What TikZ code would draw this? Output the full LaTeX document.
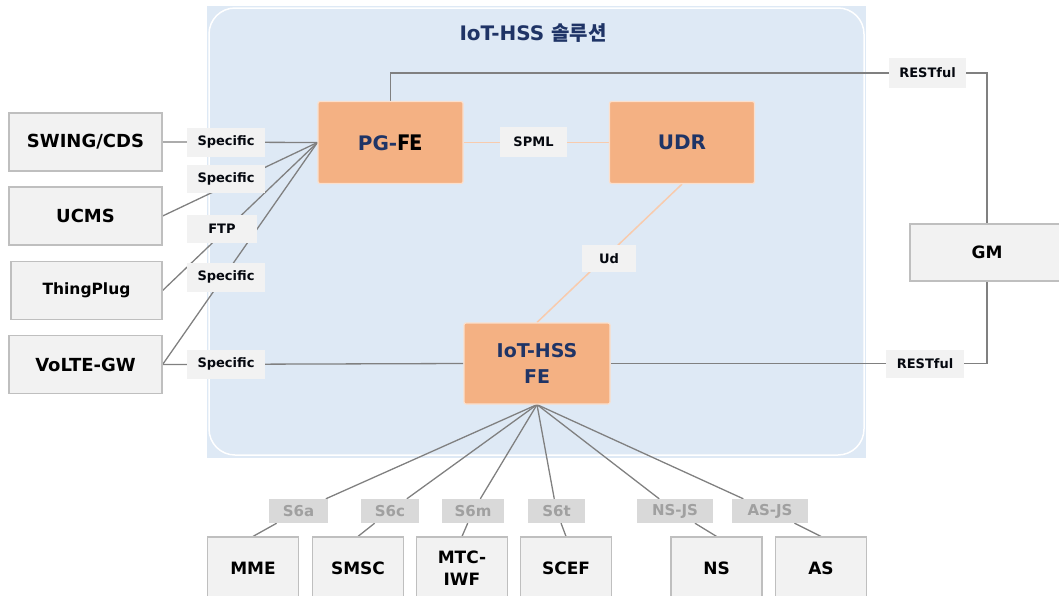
\documentclass[tikz,border=0pt]{standalone}
\usepackage{fontspec}
\setmainfont{DejaVu Sans}
\newfontfamily\krfont{Noto Sans CJK KR}
\usepackage{tikz}
\usetikzlibrary{positioning}

\definecolor{navy}{HTML}{1F3466}
\definecolor{solbg}{HTML}{DEE9F5}
\definecolor{feorange}{HTML}{F4B183}
\definecolor{feline}{HTML}{F8CBAD}
\definecolor{boxfill}{HTML}{F2F2F2}
\definecolor{boxline}{HTML}{BFBFBF}
\definecolor{refgray}{HTML}{D9D9D9}
\definecolor{reftext}{HTML}{A0A0A0}
\definecolor{wire}{HTML}{808080}

\pgfdeclarelayer{bg}
\pgfdeclarelayer{wires}
\pgfsetlayers{bg,wires,main}

\begin{document}
\begin{tikzpicture}[x=1pt,y=-1pt,
  sysbox/.style={draw=boxline, line width=1.2pt, fill=boxfill, minimum width=153pt,
    minimum height=58pt, inner sep=0pt, font=\bfseries\fontsize{18}{22}\selectfont},
  netbox/.style={sysbox, minimum width=91pt, minimum height=62pt, align=center,
    font=\bfseries\fontsize{17}{22}\selectfont},
  febox/.style={draw=white!60!feorange, line width=1.2pt, fill=feorange, rounded corners=2pt,
    minimum width=145pt, minimum height=82pt, inner sep=0pt, text=navy, align=center},
  iflabel/.style={fill=boxfill, minimum height=29pt, inner sep=0pt, text=black!85!navy,
    font=\bfseries\fontsize{13}{15}\selectfont},
  reflabel/.style={fill=refgray, minimum height=24pt, inner sep=0pt, text=reftext,
    font=\bfseries\fontsize{15}{17}\selectfont},
  wireline/.style={draw=wire, line width=1.3pt},
  feedge/.style={draw=feline, line width=1.5pt}]

  \clip (0,0) rectangle (1059,595);

  % solution area
  \begin{pgfonlayer}{bg}
    \fill[solbg] (207,6) rectangle (866,458);
    \draw[white, line width=1.5pt, rounded corners=26pt] (209,8) rectangle (864,455);
  \end{pgfonlayer}
  \node[text=navy, font=\bfseries\fontsize{20}{24}\selectfont] (title) at (533,33)
    {IoT-HSS {\krfont\bfseries 솔루션}};

  % function elements
  \node[febox, font=\bfseries\fontsize{20}{24}\selectfont] (pgfe) at (390.5,142.5)
    {PG-{\krfont\bfseries\fontsize{21}{24}\selectfont\color{black}FE}};
  \node[febox, font=\bfseries\fontsize{20}{24}\selectfont] (udr) at (682,142.5) {UDR};
  \node[febox, minimum width=146pt, minimum height=81pt,
    font=\bfseries\fontsize{19}{26}\selectfont] (iothss) at (537,363.5) {IoT-HSS\\FE};

  % left side systems
  \node[sysbox] (swing) at (85.5,142) {SWING/CDS};
  \node[sysbox] (ucms) at (85.5,216) {UCMS};
  \node[sysbox, minimum width=151pt, font=\bfseries\fontsize{15.5}{18}\selectfont] (thing) at (86.5,290.5) {ThingPlug};
  \node[sysbox] (volte) at (85.5,364.5) {VoLTE-GW};

  % GM
  \node[sysbox, minimum width=154pt, minimum height=57pt,
    font=\bfseries\fontsize{17}{22}\selectfont] (gm) at (987,252.5) {GM};

  % network elements
  \node[netbox] (mme) at (253,568) {MME};
  \node[netbox] (smsc) at (358,568) {SMSC};
  \node[netbox] (mtc) at (462,568) {MTC-\\IWF};
  \node[netbox] (scef) at (566,568) {SCEF};
  \node[netbox] (ns) at (716.5,568) {NS};
  \node[netbox] (as) at (821,568) {AS};

  % interface labels
  \node[iflabel, minimum width=78pt] (sp1) at (226,142) {Specific};
  \node[iflabel, minimum width=78pt, minimum height=28pt] (sp2) at (226,179) {Specific};
  \node[iflabel, minimum width=70pt, minimum height=28pt] (ftp) at (222,229) {FTP};
  \node[iflabel, minimum width=78pt] (sp3) at (226,277) {Specific};
  \node[iflabel, minimum width=78pt] (sp4) at (226,364) {Specific};
  \node[iflabel, minimum width=67pt, minimum height=30pt] (spml) at (533.5,142) {SPML};
  \node[iflabel, minimum width=54pt, minimum height=27pt] (ud) at (609,258.5) {Ud};
  \node[iflabel, minimum width=77pt, minimum height=30pt] (rest1) at (927.5,73) {RESTful};
  \node[iflabel, minimum width=78pt, minimum height=28pt] (rest2) at (925,363.5) {RESTful};

  \node[reflabel, minimum width=59pt] (s6a) at (298.5,511) {S6a};
  \node[reflabel, minimum width=58pt] (s6c) at (390,511) {S6c};
  \node[reflabel, minimum width=62pt] (s6m) at (473,511) {S6m};
  \node[reflabel, minimum width=57pt] (s6t) at (556.5,511) {S6t};
  \node[reflabel, minimum width=76pt] (nsjs) at (675,511) {NS-JS};
  \node[reflabel, minimum width=76pt] (asjs) at (770,511) {AS-JS};

  % connectors
  \begin{pgfonlayer}{wires}
    \draw[feedge] (pgfe) -- (udr);
    \draw[feedge] (udr.south) -- (iothss.north);

    \draw[wireline] (swing.east) -- (pgfe.west);
    \draw[wireline] (ucms.east) -- (pgfe.west);
    \draw[wireline] (thing.east) -- (pgfe.west);
    \draw[wireline] (volte.east) -- (pgfe.west);
    \draw[wireline] (volte.east) -- (iothss.west);

    \draw[wireline] (pgfe.north) |- (rest1) -| (gm.north);
    \draw[wireline] (iothss.east) -- (rest2) -| (gm.south);

    \foreach \lbl/\ne in {s6a/mme, s6c/smsc, s6m/mtc, s6t/scef, nsjs/ns, asjs/as}
      \draw[wireline] (iothss.south) -- (\lbl) -- (\ne.north);
  \end{pgfonlayer}
\end{tikzpicture}
\end{document}
